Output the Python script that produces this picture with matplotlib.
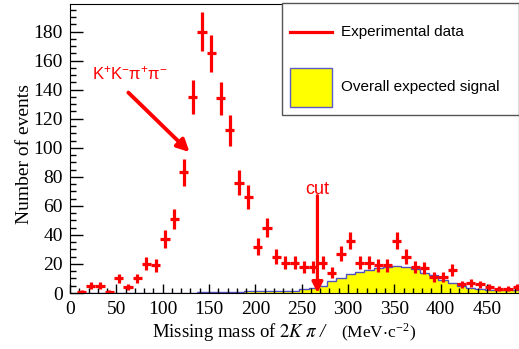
import numpy as np
import matplotlib.pyplot as plt
from matplotlib.patches import Rectangle
from matplotlib.lines import Line2D
from matplotlib.ticker import MultipleLocator

plt.rcParams['font.family'] = 'serif'
plt.rcParams['font.serif'] = ['Liberation Serif', 'DejaVu Serif']
plt.rcParams['mathtext.fontset'] = 'stix'

# bin centres (MeV/c^2), bin width 10
centers = [12.5, 22.5, 32.5, 42.5, 52.5, 62.5, 72.5, 82.5, 92.5, 102.5,
           112.5, 122.5, 132.5, 142.5, 152.5, 162.5, 172.5, 182.5, 192.5, 202.5,
           212.5, 222.5, 232.5, 242.5, 252.5, 262.5, 272.5, 282.5, 292.5, 302.5,
           312.5, 322.5, 332.5, 342.5, 352.5, 362.5, 372.5, 382.5, 392.5, 402.5,
           412.5, 422.5, 432.5, 442.5, 452.5, 462.5, 472.5, 482.5]
counts = [1, 5, 5, 1, 10, 4, 10, 20, 19, 37,
          51, 83, 135, 180, 165, 134, 112, 76, 66, 32,
          45, 25, 21, 21, 18, 18, 21, 14, 27, 36,
          21, 21, 19, 19, 36, 25, 18, 17, 11, 11,
          16, 6, 7, 6, 4, 3, 3, 4]
signal = [0.3, 0.3, 0.3, 0.3, 0.3, 0.3, 0.3, 0.3, 0.3, 0.3,
          0.3, 0.3, 0.3, 0.6, 0.6, 0.6, 0.6, 0.6, 1.5, 1.5,
          1.5, 1.5, 1.5, 1.5, 2.5, 3.5, 5, 8, 10.5, 13,
          14.5, 16, 17, 18, 18.5, 18, 16.5, 14, 12.5, 9,
          7, 4.5, 3.5, 2.5, 2, 2, 2, 2]
cut_value = 267

W, H = 519, 349
def fx(px):
    return px / W
def fy(py):
    return 1 - py / H

fig = plt.figure(figsize=(W / 100, H / 100), dpi=100)
ax = fig.add_axes([fx(70), fy(293), 1 - fx(70), (293 - 4) / H])

c = np.array(centers)
edges = np.append(c - 5, c[-1] + 5)
ax.stairs(signal, edges, fill=True, color='#ffff00', baseline=0)
ax.stairs(signal, edges, color='#5050c0', lw=1, baseline=0)

ax.errorbar(centers, counts, xerr=5, yerr=np.sqrt(counts), fmt='none',
            ecolor='red', elinewidth=2.3, capsize=0)

ax.set_xlim(0, 484.5)
ax.set_ylim(0, 199)
ax.xaxis.set_major_locator(MultipleLocator(50))
ax.xaxis.set_minor_locator(MultipleLocator(10))
ax.yaxis.set_major_locator(MultipleLocator(20))
ax.yaxis.set_minor_locator(MultipleLocator(5))
ax.tick_params(which='both', direction='in', labelsize=14, width=1)
ax.tick_params(axis='y', which='major', length=9, pad=5)
ax.tick_params(axis='y', which='minor', length=4.5)
ax.tick_params(axis='x', which='major', length=6.5, pad=6)
ax.tick_params(axis='x', which='minor', length=3.3)

# cut arrow
ax.annotate('', xy=(cut_value, 0), xytext=(cut_value, 67),
            arrowprops=dict(arrowstyle='-|>', color='red', lw=2.3,
                            mutation_scale=16, shrinkA=0, shrinkB=0))
ax.text(cut_value, 71, 'cut', color='red', fontsize=13, family='Liberation Sans',
        ha='center', va='center')

# K+K-pi+pi- label and arrow
ax.annotate('', xy=(129, 97), xytext=(63, 138),
            arrowprops=dict(arrowstyle='-|>', color='red', lw=2.8,
                            mutation_scale=18, shrinkA=0, shrinkB=0))
ax.text(24, 151, r'$\mathregular{K^{+}K^{-}π^{+}π^{-}}$', color='red', fontsize=12,
        family='Liberation Sans', ha='left', va='center')

# legend box
fig.add_artist(Rectangle((fx(282), fy(115)), fx(519) - fx(282), fy(3) - fy(115),
                         transform=fig.transFigure, facecolor='white',
                         edgecolor='#555555', lw=1))
fig.add_artist(Line2D([fx(290), fx(332)], [fy(32), fy(32)], transform=fig.transFigure,
                      color='red', lw=2.3))
fig.add_artist(Rectangle((fx(290), fy(107)), fx(332) - fx(290), fy(68) - fy(107),
                         transform=fig.transFigure, facecolor='#ffff00',
                         edgecolor='#5a5ac8', lw=1))
fig.text(fx(341), fy(32), 'Experimental data', fontsize=11, family='Liberation Sans',
         va='center', ha='left')
fig.text(fx(341), fy(87), 'Overall expected signal', fontsize=11, family='Liberation Sans',
         va='center', ha='left')

# axis titles
fig.text(fx(152), fy(337), r'Missing mass of $2K\;\pi$', fontsize=13.5,
         ha='left', va='baseline')
fig.text(fx(320), fy(337), '/', fontsize=13.5, style='italic', ha='left', va='baseline')
fig.text(fx(341), fy(337), r'(MeV$\cdot$c$^{\mathregular{-2}}$)', fontsize=12.5,
         ha='left', va='baseline')
fig.text(fx(25), fy(154), 'Number of events', fontsize=14, rotation=90,
         ha='center', va='center')

fig.savefig('out.png', dpi=100)
